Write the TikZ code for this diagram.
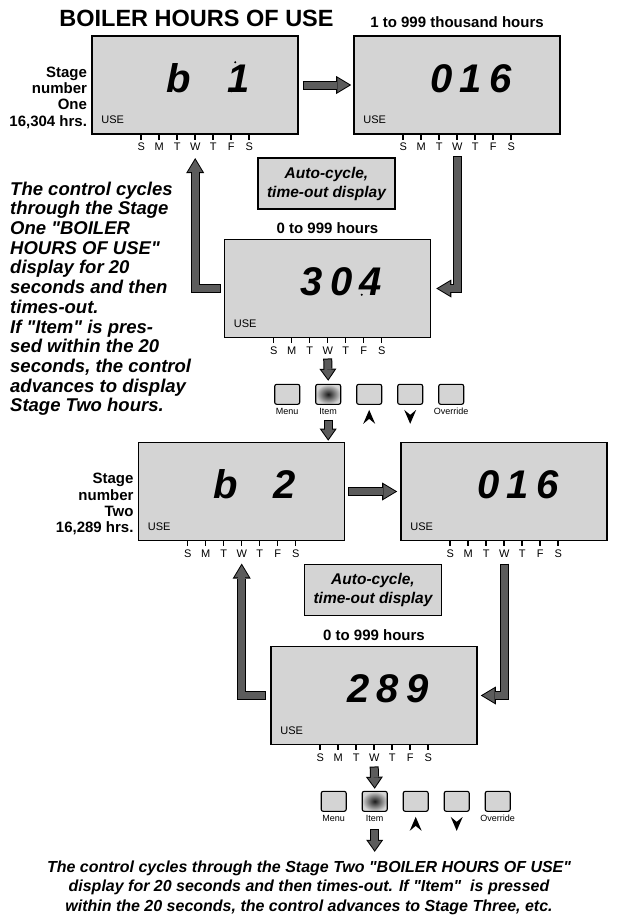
\documentclass[tikz,border=0pt]{standalone}
\usepackage{fontspec}
\setmainfont{Liberation Sans}[Ligatures=TeXOff]
\usetikzlibrary{arrows.meta}
\definecolor{lcdgray}{RGB}{212,212,212}
\definecolor{arrowgray}{RGB}{92,92,92}
\tikzset{
  lcd/.style={draw, fill=lcdgray, line width=1.6pt, minimum width=206pt, minimum height=98pt, inner sep=0pt},
  lcddigits/.style={anchor=base, inner sep=0pt, font=\fontsize{40}{40}\selectfont\bfseries\itshape},
  uselbl/.style={anchor=base west, inner sep=0pt, font=\fontsize{11}{11}\selectfont},
  daylbl/.style={anchor=base, inner sep=1pt, font=\fontsize{11}{11}\selectfont},
  stagelbl/.style={anchor=south east, align=right, inner sep=0pt, font=\fontsize{15}{16.3}\selectfont\bfseries},
  rangelbl/.style={anchor=base, inner sep=0pt, font=\fontsize{15}{15}\selectfont\bfseries},
  autonote/.style={draw, fill=lcdgray, line width=1.6pt, minimum width=137pt, minimum height=51pt, align=center,
    font=\fontsize{15.5}{19}\selectfont\bfseries\itshape},
  keybtn/.style={draw, fill=lcdgray, line width=1.1pt, rounded corners=2pt, minimum width=25pt, minimum height=20pt, inner sep=0pt},
  keypress/.style={shading=radial, inner color=black!90, outer color=lcdgray},
  keylbl/.style={anchor=base, inner sep=0pt, font=\fontsize{9}{9}\selectfont},
  sidetext/.style={anchor=north west, align=left, inner sep=0pt, font=\fontsize{18.5}{19.7}\selectfont\bfseries\itshape},
  foottext/.style={anchor=north, align=center, inner sep=0pt, font=\fontsize{16}{19.5}\selectfont\bfseries\itshape},
  fatarrow/.style={draw=black, line width=9pt, -{Triangle[length=15pt,width=18pt,line width=0pt]},
    postaction={draw=arrowgray, line width=7pt, shorten <=1pt, shorten >=1.94pt,
      -{Triangle[length=12pt,width=14.5pt,line width=0pt]}}},
  stubarrow/.style={draw=black, line width=9pt, -{Triangle[length=12pt,width=17pt,line width=0pt]},
    postaction={draw=arrowgray, line width=7pt, shorten <=1pt, shorten >=1.73pt,
      -{Triangle[length=9.3pt,width=13.1pt,line width=0pt]}}}
}
% digits, USE and weekday marks of one display
\newcommand{\lcdface}[4]{%
  \node[lcddigits] (#1num) at ([shift={(117.5,57)}]#1.north west)
    {\makebox[29.5pt]{#2}\makebox[29.5pt]{#3}\makebox[29.5pt]{#4}};
  \node[uselbl] (#1use) at ([shift={(10,-11)}]#1.south west) {USE};
  \foreach \dy [count=\i] in {S,M,T,W,T,F,S} {
    \draw[line width=1.5pt] ([shift={(32+18*\i,0)}]#1.south west) -- ++(0,5);
    \node[daylbl] (#1d\i) at ([shift={(32+18*\i,16)}]#1.south west) {\dy};
  }
}
% the five keys under a display
\newcommand{\keypad}[2]{%
  \node[keybtn] (#1menu) at ([shift={(63.5,56)}]#2.south west) {};
  \node[keybtn, keypress] (#1item) at ([shift={(104.5,56)}]#2.south west) {};
  \node[keybtn] (#1up) at ([shift={(145.5,56)}]#2.south west) {};
  \node[keybtn] (#1down) at ([shift={(186.5,56)}]#2.south west) {};
  \node[keybtn] (#1over) at ([shift={(227.5,56)}]#2.south west) {};
  \node[keylbl] (#1menulbl) at ([yshift=-10pt]#1menu.south) {Menu};
  \node[keylbl] (#1itemlbl) at ([yshift=-10pt]#1item.south) {Item};
  \node[keylbl] (#1overlbl) at ([yshift=-10pt]#1over.south) {Override};
  \fill ([yshift=-5pt]#1up.south) -- ++(-6,14) -- ++(6,-5) -- ++(6,5) -- cycle;
  \fill ([yshift=-19pt]#1down.south) -- ++(-6,-14) -- ++(6,5) -- ++(6,-5) -- cycle;
}

\begin{document}
\begin{tikzpicture}[x=1pt, y=-1pt]
    \useasboundingbox (0,0) rectangle (618,916);
    \node[lcd] (b1) at (195,85) {};
    \node[lcd] (b2) at (457,85) {};
    \node[lcd] (b3) at (327.5,288.5) {};
    \node[lcd] (b4) at (241.5,491.5) {};
    \node[lcd] (b5) at (504,491.5) {};
    \node[lcd] (b6) at (374,695.5) {};
    \lcdface{b1}{b}{}{1}
    \lcdface{b2}{0}{1}{6}
    \lcdface{b3}{3}{0}{4}
    \lcdface{b4}{b}{}{2}
    \lcdface{b5}{0}{1}{6}
    \lcdface{b6}{2}{8}{9}
    \fill ([shift={(144,27)}]b1.north west) circle (1.1pt);
    \fill ([shift={(140,56)}]b1.north west) circle (1.1pt);
    \fill ([shift={(138,56)}]b3.north west) circle (1.1pt);
    \keypad{k1}{b3}
    \keypad{k2}{b6}

    \node[anchor=base, inner sep=0pt, font=\fontsize{23.5}{24}\selectfont\bfseries] (title)
      at ([shift={(1.5,-9)}]b1.north) {BOILER HOURS OF USE};
    \node[rangelbl] (r1) at ([yshift=8pt]b2.north) {1 to 999 thousand hours};
    \node[rangelbl] (r2) at ([yshift=5pt]b3.north) {0 to 999 hours};
    \node[rangelbl] (r3) at ([yshift=5pt]b6.north) {0 to 999 hours};
    \node[stagelbl] (s1) at ([shift={(-4,-6)}]b1.south west) {Stage\\number\\One\\16,304 hrs.};
    \node[stagelbl] (s2) at ([shift={(-4,-6)}]b4.south west) {Stage\\number\\Two\\16,289 hrs.};
    \node[autonote] (auto1) at (326.5,183.5) {Auto-cycle,\\time-out display};
    \node[autonote] (auto2) at (373,590) {Auto-cycle,\\time-out display};
    \node[sidetext] (side) at (10,181.5) {The control cycles\\through the Stage\\One "BOILER\\HOURS OF USE"\\display for 20\\seconds and then\\times-out.\\If "Item" is pres-\\sed within the 20\\seconds, the control\\advances to display\\Stage Two hours.};
    \node[foottext] (foot) at (309,860.5) {The control cycles through the Stage Two "BOILER HOURS OF USE"\\display for 20 seconds and then times-out. If "Item"\ \ is pressed\\within the 20 seconds, the control advances to Stage Three, etc.};

    \draw[fatarrow] ([xshift=4pt]b1.east) -- ([xshift=-2pt]b2.west);
    \draw[fatarrow] ([yshift=-4pt]b2d4.south) |- ([xshift=5pt]b3.east);
    \draw[fatarrow] ([xshift=-3pt]b3.west) -| ([yshift=-6pt]b1d4.south);
    \draw[stubarrow] ([yshift=-3pt]b3d4.south) -- ([yshift=3pt]k1item.north);
    \draw[stubarrow] ([yshift=-15pt]k1item.south) -- ([yshift=1pt]k1item |- b4.north);
    \draw[fatarrow] ([xshift=3pt]b4.east) -- ([xshift=-3pt]b5.west);
    \draw[fatarrow] ([yshift=-5pt]b5d4.south) |- ([xshift=3pt]b6.east);
    \draw[fatarrow] ([xshift=-4pt]b6.west) -| ([yshift=-5pt]b4d4.south);
    \draw[stubarrow] ([yshift=-4pt]b6d4.south) -- ([yshift=2pt]k2item.north);
    \coordinate (next) at ([yshift=-40pt]k2item.south);
    \draw[stubarrow] ([yshift=-17pt]k2item.south) -- (next);
\end{tikzpicture}
\end{document}
